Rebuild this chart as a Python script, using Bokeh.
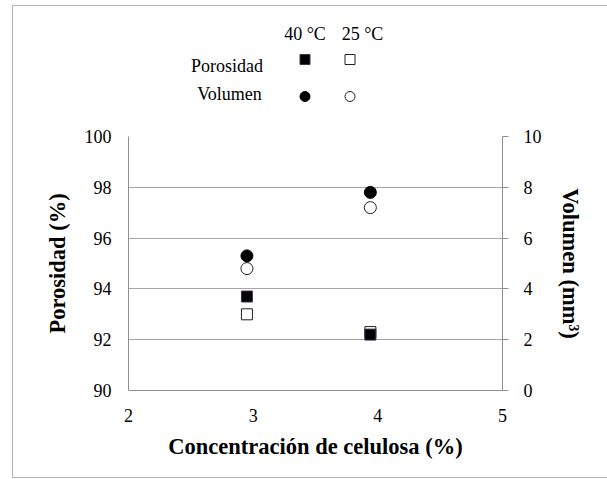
from bokeh.plotting import figure
from bokeh.layouts import column
from bokeh.models import Range1d, LinearAxis, FixedTicker
from bokeh.core.properties import value
from bokeh.embed import file_html
from bokeh.resources import INLINE

# ---- data ----
conc = [2.95, 3.94]
poro_40 = [93.7, 92.2]
poro_25 = [93.0, 92.3]
vol_40 = [5.3, 7.8]
vol_25 = [4.8, 7.2]
x_ticks = [2, 3, 4, 5]
poro_ticks = [90, 92, 94, 96, 98, 100]
vol_ticks = [0, 2, 4, 6, 8, 10]

x_title = "Concentración de celulosa (%)"
y_title = "Porosidad (%)"
y2_title = "Volumen (mm³)"
legend_cols = ["40 °C", "25 °C"]
legend_rows = ["Porosidad", "Volumen"]

SERIF = "Liberation Serif"
GRID = "#a6a6a6"
AX = "#8f8f8f"
BORDER = "#b4b4b4"

W = 607
LEG_H = 128          # height of the legend strip (page pixels)
MAIN_H = 479 - LEG_H
FL, FR, FT, FB = 128, 502, 136, 390   # plot frame, page pixels

# ---------- legend strip (frame is aligned with the chart frame; data = page pixels) ----------
lg = figure(width=W, height=LEG_H, x_range=Range1d(FL, FR), y_range=Range1d(LEG_H, 0),
            output_backend="svg", toolbar_location=None,
            min_border=0, x_axis_location=None, y_axis_location=None)
lg.grid.visible = False
lg.outline_line_color = None
lg.background_fill_color = None
lg.border_fill_color = None

col_x = [304.5, 349.5]
head_x = [304.5, 362]
head_y = 33
row_y = [59, 96]
row_label_x = [226.5, 229]
row_label_y = [65, 93]

lg.text(x=head_x, y=[head_y, head_y], text=legend_cols,
        text_font=value(SERIF), text_font_size=value("18px"), text_color="black",
        text_align="center", text_baseline="middle")
lg.text(x=row_label_x, y=row_label_y, text=legend_rows,
        text_font=value(SERIF), text_font_size=value("18px"), text_color="black",
        text_align="center", text_baseline="middle")
lg.scatter(x=[col_x[0]], y=[row_y[0]], marker="square", size=10, fill_color="black", line_color="#3f3151")
lg.scatter(x=[col_x[1]], y=[row_y[0]], marker="square", size=10, fill_color="white", line_color="#222222")
lg.scatter(x=[col_x[0]], y=[row_y[1]], marker="circle", size=10, fill_color="black", line_color="black")
lg.scatter(x=[col_x[1]], y=[row_y[1]], marker="circle", size=10, fill_color="white", line_color="#222222")

# ---------- main chart ----------
p = figure(width=W, height=MAIN_H, x_range=Range1d(2, 5), y_range=Range1d(90, 100),
           output_backend="svg", toolbar_location=None,
           min_border_left=FL, min_border_right=W - FR,
           min_border_top=FT - LEG_H, min_border_bottom=479 - FB,
           x_axis_location=None, y_axis_location=None)
p.extra_y_ranges = {"vol": Range1d(0, 10)}
p.outline_line_color = None
p.background_fill_color = "white"
p.border_fill_color = None

xa = LinearAxis(ticker=FixedTicker(ticks=x_ticks))
ya = LinearAxis(ticker=FixedTicker(ticks=poro_ticks))
ya2 = LinearAxis(ticker=FixedTicker(ticks=vol_ticks), y_range_name="vol")
for ax in (xa, ya, ya2):
    ax.axis_line_color = AX
    ax.major_tick_line_color = AX
    ax.minor_tick_line_color = None
    ax.major_tick_in = 0
    ax.major_label_text_font = SERIF
    ax.major_label_text_font_size = "18px"
    ax.major_label_text_color = "black"
    ax.axis_label_text_font = SERIF
    ax.axis_label_text_font_style = "bold"
    ax.axis_label_text_font_size = "22.5px"
    ax.axis_label_text_color = "black"
xa.major_tick_out = 0
ya.major_tick_out = 0
ya2.major_tick_out = 6
xa.major_label_standoff = 18
ya.major_label_standoff = 17
ya2.major_label_standoff = 15
xa.axis_label = x_title
ya.axis_label = y_title
ya2.axis_label = y2_title
xa.axis_label_standoff = 9
ya.axis_label_standoff = 12
ya2.axis_label_standoff = 13
p.add_layout(xa, "below")
p.add_layout(ya, "left")
p.add_layout(ya2, "right")

p.xgrid.visible = False
p.ygrid.ticker = FixedTicker(ticks=poro_ticks)
p.ygrid.grid_line_color = GRID

# series (25 °C drawn first, 40 °C on top)
p.scatter(conc, poro_25, marker="square", size=11, fill_color="white", line_color="#222222", line_width=1)
p.scatter(conc, poro_40, marker="square", size=11, fill_color="black", line_color="#3f3151", line_width=1)
p.scatter(conc, vol_25, marker="circle", size=12, fill_color="white", line_color="#222222", line_width=1, y_range_name="vol")
p.scatter(conc, vol_40, marker="circle", size=12, fill_color="black", line_color="black", line_width=1, y_range_name="vol")

# outer chart-area border drawn as CSS background lines behind the transparent canvases
line = f"linear-gradient({BORDER},{BORDER})"
bg = (f"{line} 12px 5px / 1px 473px no-repeat, "
      f"{line} 12px 5px / 600px 1px no-repeat, "
      f"{line} 12px 477px / 600px 1px no-repeat, white")
layout = column(lg, p, spacing=0, styles={"background": bg})

open("out.html", "w").write(file_html(layout, INLINE))
